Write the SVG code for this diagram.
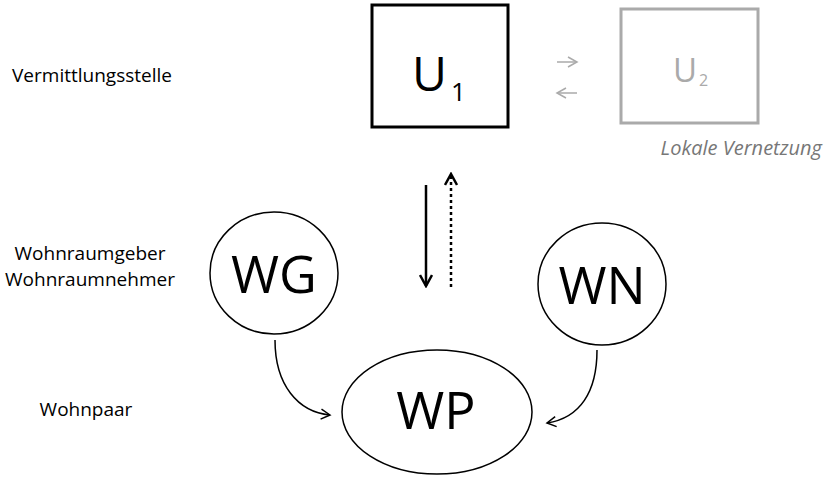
<svg xmlns="http://www.w3.org/2000/svg" width="828" height="477" viewBox="0 0 828 477">
<style>
text{font-family:"Open Sans","DejaVu Sans",sans-serif;fill:#000}
.lbl{font-size:19px}
.big{font-size:52px}
.node{fill:#fff;stroke:#000;stroke-width:1.5}
.gray{fill:#aaa}
</style>
<defs>
<marker id="open" viewBox="0 0 12 12" refX="10" refY="6" markerWidth="12" markerHeight="12" markerUnits="userSpaceOnUse" orient="auto">
<path d="M1,1 L10,6 L1,11" fill="none" stroke="#000" stroke-width="1.5"/>
</marker>
<marker id="head" viewBox="0 0 14 14" refX="12" refY="7" markerWidth="14" markerHeight="14" markerUnits="userSpaceOnUse" orient="auto">
<path d="M1,1 L12,7 L1,13" fill="none" stroke="#000" stroke-width="2.5"/>
</marker>
<marker id="gopen" viewBox="0 0 12 12" refX="10" refY="6" markerWidth="12" markerHeight="12" markerUnits="userSpaceOnUse" orient="auto">
<path d="M1,1 L10,6 L1,11" fill="none" stroke="#aaa" stroke-width="1.5"/>
</marker>
</defs>
<g id="labels">
<text class="lbl" x="92" y="82" text-anchor="middle">Vermittlungsstelle</text>
<text class="lbl" x="90" y="260" text-anchor="middle">Wohnraumgeber</text>
<text class="lbl" x="90" y="286" text-anchor="middle">Wohnraumnehmer</text>
<text class="lbl" x="86" y="416" text-anchor="middle">Wohnpaar</text>
</g>
<g id="U1">
<rect x="372" y="5" width="136" height="122" fill="#fff" stroke="#000" stroke-width="3"/>
<text x="412" y="91" font-size="48">U</text>
<text x="451" y="101" font-size="26">1</text>
</g>
<g id="U2">
<rect x="621" y="9" width="137" height="114" fill="#fff" stroke="#aaa" stroke-width="3"/>
<text x="673" y="82" font-size="33" class="gray">U</text>
<text x="699" y="86" font-size="16" class="gray">2</text>
<text x="822" y="155" font-size="20" font-style="italic" text-anchor="end" style="fill:#777">Lokale Vernetzung</text>
</g>
<g id="WG">
<ellipse class="node" cx="274" cy="273" rx="64" ry="61"/>
<text class="big" x="274" y="293" text-anchor="middle">WG</text>
</g>
<g id="WN">
<ellipse class="node" cx="602" cy="284" rx="64" ry="61"/>
<text class="big" x="602" y="304" text-anchor="middle">WN</text>
</g>
<g id="WP">
<ellipse class="node" cx="437" cy="412" rx="95" ry="62"/>
<text class="big" x="436" y="429" text-anchor="middle">WP</text>
</g>
<g id="connectors" fill="none">
<path d="M557,62 L577,62" stroke="#aaa" stroke-width="1.5" marker-end="url(#gopen)"/>
<path d="M577,93 L557,93" stroke="#aaa" stroke-width="1.5" marker-end="url(#gopen)"/>
<path d="M426,185 L426,286" stroke="#000" stroke-width="2.5" marker-end="url(#head)"/>
<path d="M451,287 L451,174" stroke="#000" stroke-width="2.5" stroke-dasharray="3,3" marker-end="url(#head)"/>
<path d="M275,340 C275,385 298,412 330,415" stroke="#000" stroke-width="1.5" marker-end="url(#open)"/>
<path d="M597,350 C597,392 580,418 547,423" stroke="#000" stroke-width="1.5" marker-end="url(#open)"/>
</g>
</svg>
